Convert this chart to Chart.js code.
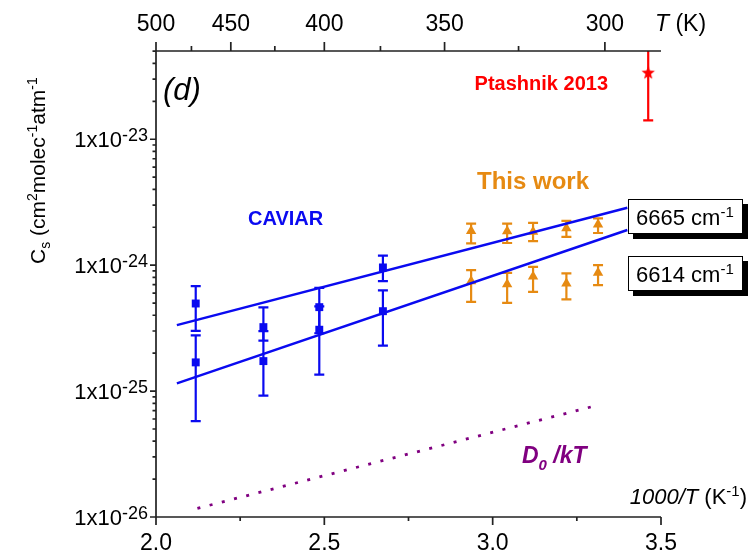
<!DOCTYPE html>
<html>
<head>
<meta charset="utf-8">
<script src="https://cdn.jsdelivr.net/npm/chart.js@4.4.1/dist/chart.umd.min.js"></script>
<style>
  html, body { margin: 0; padding: 0; background: #fff; }
</style>
</head>
<body>
<canvas id="c" width="750" height="554"></canvas>
<script>
// x values are 1000/T (K^-1), y values Cs in cm2 molec-1 atm-1
const caviarX = [2.118, 2.319, 2.485, 2.674];
const caviar6665 = [4.96e-25, 3.22e-25, 4.64e-25, 9.59e-25];
const caviar6665Lo = [3.01e-25, 2.52e-25, 2.88e-25, 7.47e-25];
const caviar6665Hi = [6.81e-25, 4.62e-25, 6.60e-25, 1.19e-24];
const caviar6614 = [1.69e-25, 1.73e-25, 3.07e-25, 4.31e-25];
const caviar6614Lo = [5.77e-26, 9.2e-26, 1.35e-25, 2.30e-25];
const caviar6614Hi = [2.77e-25, 2.99e-25, 4.70e-25, 6.30e-25];

const workX = [2.936, 3.043, 3.120, 3.219, 3.313];
const work6665 = [1.87e-24, 1.86e-24, 1.84e-24, 1.96e-24, 2.10e-24];
const work6665Lo = [1.49e-24, 1.50e-24, 1.55e-24, 1.68e-24, 1.80e-24];
const work6665Hi = [2.14e-24, 2.14e-24, 2.17e-24, 2.25e-24, 2.35e-24];
const work6614 = [7.46e-25, 7.06e-25, 8.13e-25, 7.16e-25, 8.69e-25];
const work6614Lo = [5.11e-25, 5.02e-25, 6.14e-25, 5.34e-25, 6.94e-25];
const work6614Hi = [9.13e-25, 8.69e-25, 9.70e-25, 8.59e-25, 1.00e-24];

const ptashnikX = [3.462];
const ptashnik = [3.35e-23];
const ptashnikLo = [1.41e-23];
const ptashnikHi = [5.43e-23];

const fitX = [2.062, 3.40];
const fit6665 = [3.34e-25, 2.86e-24];
const fit6614 = [1.15e-25, 1.90e-24];

const d0X = [2.123, 3.318];
const d0kT = [1.17e-26, 7.8e-26];

const xMajor = [2.0, 2.5, 3.0, 3.5];
const xMinor = [2.25, 2.75, 3.25];
const tMajor = [500, 450, 400, 350, 300];
const tMinor = [475, 425, 375, 325];
const yDecades = [-26, -25, -24, -23];

const BLUE = '#0a0af0';
const ORANGE = '#e68a12';
const RED = '#ff0000';
const PURPLE = '#800080';
const FONT = "'Liberation Sans', Arial, sans-serif";

const pts = (xs, ys) => xs.map((x, i) => ({ x, y: ys[i] }));

// filled five-point star used as the Ptashnik marker
function starCanvas(r, color) {
    const s = Math.ceil(r * 2) + 2;
    const c = document.createElement('canvas');
    c.width = c.height = s;
    const g = c.getContext('2d');
    g.fillStyle = color;
    g.beginPath();
    for (let i = 0; i < 10; i++) {
        const rad = i % 2 ? r * 0.42 : r;
        const a = -Math.PI / 2 + i * Math.PI / 5;
        g.lineTo(s / 2 + rad * Math.cos(a), s / 2 + rad * Math.sin(a));
    }
    g.closePath();
    g.fill();
    return c;
}

function drawRich(ctx, x, y, parts, align) {
    let w = 0;
    parts.forEach(p => { ctx.font = p[1]; w += ctx.measureText(p[0]).width; });
    let cx = align === 'right' ? x - w : align === 'center' ? x - w / 2 : x;
    parts.forEach(p => {
        ctx.font = p[1];
        ctx.fillText(p[0], cx, y + (p[2] || 0));
        cx += ctx.measureText(p[0]).width;
    });
}

const errorBars = {
    id: 'errorBars',
    beforeDatasetsDraw(chart) {
        const { ctx, chartArea: a, scales: { x, y } } = chart;
        ctx.save();
        ctx.beginPath();
        ctx.rect(a.left, a.top, a.right - a.left, a.bottom - a.top);
        ctx.clip();
        chart.data.datasets.forEach(ds => {
            if (!ds.errLo) return;
            ctx.strokeStyle = ds.borderColor;
            ctx.lineWidth = 2.2;
            ds.data.forEach((p, k) => {
                const px = x.getPixelForValue(p.x);
                const t = y.getPixelForValue(ds.errHi[k]);
                const b = y.getPixelForValue(ds.errLo[k]);
                ctx.beginPath();
                ctx.moveTo(px, t); ctx.lineTo(px, b);
                ctx.moveTo(px - 5, t); ctx.lineTo(px + 5, t);
                ctx.moveTo(px - 5, b); ctx.lineTo(px + 5, b);
                ctx.stroke();
            });
        });
        ctx.restore();
    }
};

const axes = {
    id: 'axes',
    afterDraw(chart) {
        const { ctx, chartArea: a, scales: { x, y } } = chart;
        ctx.save();
        ctx.strokeStyle = '#222';
        ctx.fillStyle = '#000';
        ctx.lineWidth = 1.7;

        // axis lines: left, bottom, top
        ctx.beginPath();
        ctx.moveTo(a.left, a.top); ctx.lineTo(a.left, a.bottom);
        ctx.moveTo(a.left, a.bottom); ctx.lineTo(a.right, a.bottom);
        ctx.moveTo(a.left, a.top); ctx.lineTo(a.right, a.top);
        ctx.stroke();

        // bottom ticks
        ctx.beginPath();
        xMajor.forEach(v => { const px = x.getPixelForValue(v); ctx.moveTo(px, a.bottom); ctx.lineTo(px, a.bottom + 8); });
        xMinor.forEach(v => { const px = x.getPixelForValue(v); ctx.moveTo(px, a.bottom); ctx.lineTo(px, a.bottom + 4); });
        // top ticks in temperature
        tMajor.forEach(t => { const px = x.getPixelForValue(1000 / t); ctx.moveTo(px, a.top); ctx.lineTo(px, a.top - 9); });
        tMinor.forEach(t => { const px = x.getPixelForValue(1000 / t); ctx.moveTo(px, a.top); ctx.lineTo(px, a.top - 5); });
        // left log ticks
        yDecades.forEach(d => {
            for (let m = 1; m <= 9; m++) {
                const v = m * Math.pow(10, d);
                if (v > y.max * 1.001) break;
                const py = y.getPixelForValue(v);
                ctx.moveTo(a.left, py); ctx.lineTo(a.left - (m === 1 ? 6 : 3.5), py);
            }
        });
        ctx.stroke();

        ctx.textBaseline = 'alphabetic';
        ctx.textAlign = 'left';
        xMajor.forEach(v => {
            drawRich(ctx, x.getPixelForValue(v), 550, [[v.toFixed(1), `23px ${FONT}`]], 'center');
        });
        tMajor.forEach(t => {
            drawRich(ctx, x.getPixelForValue(1000 / t), 31, [[String(t), `23px ${FONT}`]], 'center');
        });
        yDecades.forEach(d => {
            const py = y.getPixelForValue(Math.pow(10, d));
            drawRich(ctx, 148, py + 8, [['1x10', `22px ${FONT}`], [String(d), `18px ${FONT}`, -6]], 'right');
        });

        // axis titles
        drawRich(ctx, 655, 31, [['T', `italic 23px ${FONT}`], [' (K)', `23px ${FONT}`]], 'left');
        drawRich(ctx, 747, 504, [['1000/T', `italic 22px ${FONT}`], [' (K', `22px ${FONT}`], ['-1', `15px ${FONT}`, -8], [')', `22px ${FONT}`]], 'right');

        ctx.save();
        ctx.translate(45, 264);
        ctx.rotate(-Math.PI / 2);
        drawRich(ctx, 0, 0, [
            ['C', `21px ${FONT}`], ['s', `14px ${FONT}`, 5], [' (cm', `21px ${FONT}`],
            ['2', `14px ${FONT}`, -8], ['molec', `21px ${FONT}`], ['-1', `14px ${FONT}`, -8],
            ['atm', `21px ${FONT}`], ['-1', `14px ${FONT}`, -8]
        ], 'left');
        ctx.restore();

        // panel text
        drawRich(ctx, 163, 100, [['(d)', `italic 31px ${FONT}`]], 'left');
        ctx.fillStyle = RED;
        drawRich(ctx, 608, 90, [['Ptashnik 2013', `bold 20px ${FONT}`]], 'right');
        ctx.fillStyle = ORANGE;
        drawRich(ctx, 477, 189, [['This work', `bold 24px ${FONT}`]], 'left');
        ctx.fillStyle = BLUE;
        drawRich(ctx, 248, 225, [['CAVIAR', `bold 20px ${FONT}`]], 'left');
        ctx.fillStyle = PURPLE;
        drawRich(ctx, 522, 463, [['D', `italic bold 23px ${FONT}`], ['0', `italic bold 15px ${FONT}`, 7], [' /kT', `italic bold 23px ${FONT}`]], 'left');

        // band labels with drop shadow
        [['6665 cm', 199], ['6614 cm', 256]].forEach(([txt, top]) => {
            ctx.fillStyle = '#000';
            ctx.fillRect(633, top + 5, 115, 35);
            ctx.fillStyle = '#fff';
            ctx.fillRect(628, top, 115, 35);
            ctx.strokeStyle = '#000';
            ctx.lineWidth = 1;
            ctx.strokeRect(628.5, top + 0.5, 114, 34);
            ctx.fillStyle = '#000';
            drawRich(ctx, 636, top + 26, [[txt, `22px ${FONT}`], ['-1', `15px ${FONT}`, -8]], 'left');
        });
        ctx.restore();
    }
};

const squares = { pointStyle: 'rect', pointRadius: 5.6, backgroundColor: BLUE, borderColor: BLUE, borderWidth: 0, showLine: false };
const triangles = { pointStyle: 'triangle', pointRadius: 6, backgroundColor: ORANGE, borderColor: ORANGE, borderWidth: 0, showLine: false };

new Chart(document.getElementById('c'), {
    type: 'scatter',
    data: {
        datasets: [
            { data: pts(d0X, d0kT), showLine: true, borderColor: PURPLE, borderWidth: 2.8, borderDash: [3, 9.6], pointRadius: 0 },
            { data: pts(fitX, fit6665), showLine: true, borderColor: BLUE, borderWidth: 2.5, pointRadius: 0 },
            { data: pts(fitX, fit6614), showLine: true, borderColor: BLUE, borderWidth: 2.5, pointRadius: 0 },
            { ...squares, data: pts(caviarX, caviar6665), errLo: caviar6665Lo, errHi: caviar6665Hi },
            { ...squares, data: pts(caviarX, caviar6614), errLo: caviar6614Lo, errHi: caviar6614Hi },
            { ...triangles, data: pts(workX, work6665), errLo: work6665Lo, errHi: work6665Hi },
            { ...triangles, data: pts(workX, work6614), errLo: work6614Lo, errHi: work6614Hi },
            { data: pts(ptashnikX, ptashnik), pointStyle: starCanvas(7, RED), borderColor: RED, backgroundColor: RED, showLine: false, errLo: ptashnikLo, errHi: ptashnikHi }
        ]
    },
    options: {
        responsive: false,
        devicePixelRatio: 1,
        animation: false,
        layout: { padding: { left: 156, right: 89, top: 51, bottom: 37 } },
        plugins: { legend: { display: false }, tooltip: { enabled: false } },
        scales: {
            x: { type: 'linear', min: 2.0, max: 3.5, display: false },
            y: { type: 'logarithmic', min: 1e-26, max: 5.02e-23, display: false }
        }
    },
    plugins: [errorBars, axes]
});
</script>
</body>
</html>
